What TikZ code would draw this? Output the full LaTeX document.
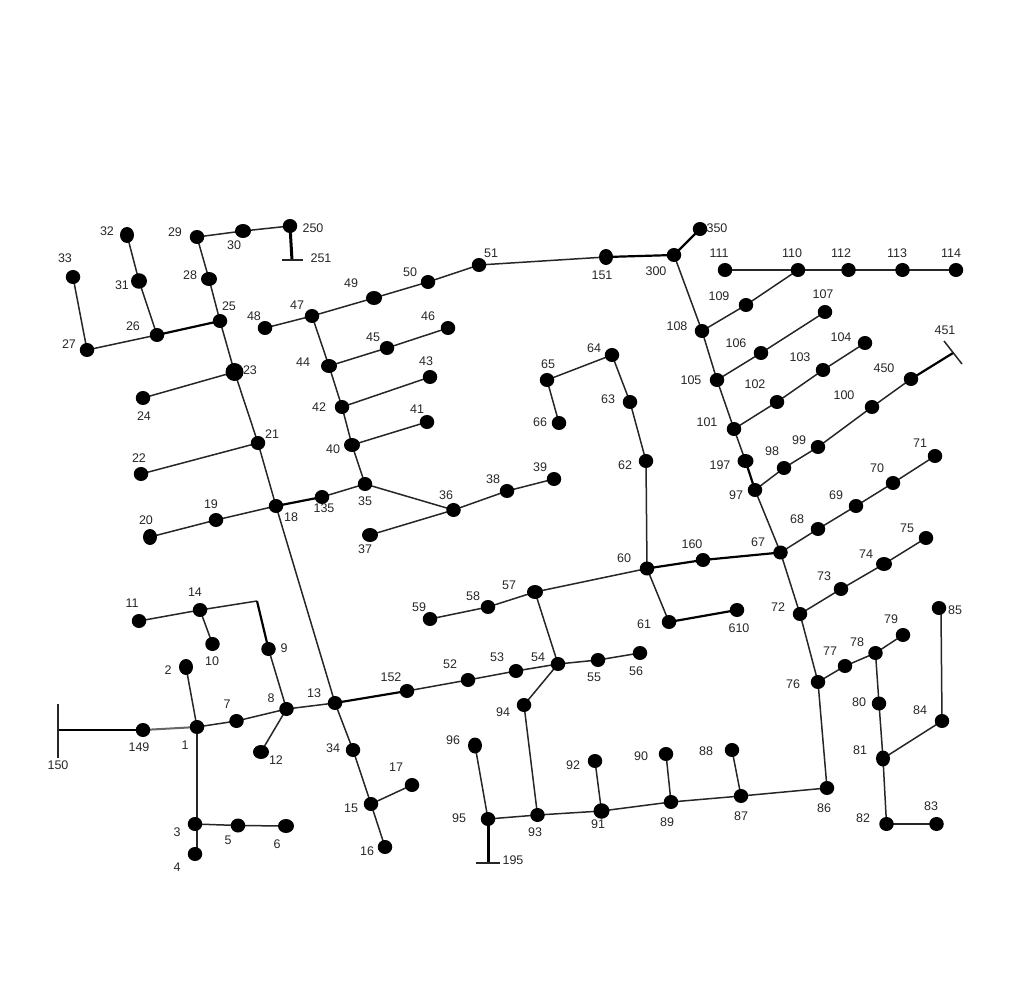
\documentclass[tikz,border=0pt]{standalone}
\usepackage{fontspec}
\setmainfont{Liberation Sans}
\usetikzlibrary{backgrounds,shapes.geometric}
\tikzset{x=1pt,y=-1pt,
 busdot/.style={ellipse,fill=black,draw=none,inner sep=0pt,minimum width=14.5pt,minimum height=14pt},
 widedot/.style={ellipse,fill=black,draw=none,inner sep=0pt,minimum width=16pt,minimum height=14pt},
 talldot/.style={ellipse,fill=black,draw=none,inner sep=0pt,minimum width=14pt,minimum height=16pt},
 meddot/.style={ellipse,fill=black,draw=none,inner sep=0pt,minimum width=16pt,minimum height=15.5pt},
 bigdot/.style={ellipse,fill=black,draw=none,inner sep=0pt,minimum width=18pt,minimum height=18pt},
 lbl/.style={inner sep=0pt,font=\fontsize{12.5}{14}\selectfont,text=black!85},
 ln/.style={draw=black!85,line width=1.5pt},
 grayln/.style={draw=black!60,line width=2pt},
 tk/.style={draw=black,line width=2.2pt},
 tkb/.style={draw=black,line width=3pt}}
\newcommand\busn[6][busdot]{\node[#1] (b#2) at (#3,#4) {}; \node[lbl] (t#2) at (#5,#6) {#2};}
\newcommand\termpt[5]{\coordinate (b#1) at (#2,#3); \node[lbl] (t#1) at (#4,#5) {#1};}
\begin{document}
\begin{tikzpicture}
\useasboundingbox (0,0) rectangle (1021,1000);
\coordinate (c14) at (257,601);
\coordinate (c4) at (197,850);
\coordinate (c85) at (941,610);
\termpt{150}{58}{730}{58}{765}
\termpt{251}{292}{260}{321}{258}
\termpt{451}{953}{353}{945}{330}
\termpt{195}{488}{863}{513}{860}
\draw[ln] (58,704) -- (58,758);
\draw[ln] (282,260) -- (303,260);
\draw[ln] (944,341) -- (962,364);
\draw[ln] (476,863) -- (500,863);
\busn[bigdot]{23}{234.5}{372}{250}{370}
\busn{250}{290}{226}{313}{228}
\busn[widedot]{30}{243}{231}{234}{245}
\busn{29}{197}{237}{175}{232}
\busn[widedot]{28}{209}{279}{190}{275}
\busn{25}{220}{321}{229}{306}
\busn[talldot]{32}{127}{235}{107}{231}
\busn[meddot]{31}{139}{281}{122}{285}
\busn{26}{157}{335}{133}{326}
\busn{33}{73}{277}{65}{258}
\busn{27}{87}{350}{69}{344}
\busn{24}{143}{398}{144}{416}
\busn{21}{258}{443}{272}{434}
\busn{22}{141}{474}{139}{458}
\busn{18}{276}{506}{291}{517}
\busn{19}{216}{520}{211}{504}
\busn[talldot]{20}{150}{537}{146}{520}
\busn{135}{322}{497}{324}{508}
\busn{35}{365}{484}{365}{501}
\busn[widedot]{40}{352}{445}{333}{449}
\busn{41}{427}{422}{417}{409}
\busn{42}{342}{407}{319}{407}
\busn{43}{430}{377}{426}{361}
\busn[widedot]{44}{329}{366}{303}{362}
\busn{45}{387}{348}{373}{337}
\busn{46}{448}{328}{428}{316}
\busn{47}{312}{316}{297}{305}
\busn{48}{265}{328}{254}{316}
\busn[widedot]{49}{374}{298}{351}{283}
\busn{50}{428}{282}{410}{272}
\busn{51}{479}{265}{491}{253}
\busn[talldot]{151}{606}{257}{602}{275}
\busn{300}{674}{255}{656}{271}
\busn{350}{700}{229}{717}{228}
\busn{111}{725}{270}{719}{253}
\busn{110}{798}{270}{792}{253}
\busn{112}{848.5}{270}{841}{253}
\busn{113}{902.5}{270}{897}{253}
\busn{114}{956}{270}{951}{253}
\busn{109}{746}{305}{719}{296}
\busn{108}{702}{331}{677}{326}
\busn{107}{825}{312}{823}{294}
\busn{106}{761}{353}{736}{343}
\busn{105}{717}{380}{691}{380}
\busn{104}{865}{343}{841}{337}
\busn{103}{823}{370}{800}{357}
\busn{102}{777}{402}{755}{384}
\busn{101}{734}{429}{707}{422}
\busn{100}{872}{407}{844}{395}
\busn{450}{911}{379}{884}{368}
\busn{99}{818}{447}{799}{440}
\busn{98}{784}{468}{772}{451}
\busn[widedot]{197}{745.5}{461}{720}{465}
\busn{97}{755}{490}{736}{495}
\busn{71}{935}{456}{920}{443}
\busn{70}{893}{483}{877}{468}
\busn{69}{856}{506}{836}{495}
\busn{68}{818}{529}{797}{519}
\busn{67}{780.5}{552.5}{758}{542}
\busn{160}{703}{560}{692}{544}
\busn{60}{647}{568.5}{624}{558}
\busn{75}{926}{538}{907}{528}
\busn[widedot]{74}{884}{564}{866}{554}
\busn{73}{841}{589}{824}{576}
\busn{72}{800}{614}{778}{607}
\busn{85}{939}{608}{955}{610}
\busn{79}{903}{635}{891}{619}
\busn{78}{875.5}{653}{857}{642}
\busn{77}{845}{666}{830}{651}
\busn{76}{818}{682}{793}{684}
\busn{80}{879}{703.5}{859}{702}
\busn{84}{942}{721}{920}{710}
\busn[talldot]{81}{883}{758.5}{860}{750}
\busn{82}{886.5}{824}{863}{818}
\busn{83}{936.5}{824}{931}{806}
\busn{86}{827}{788}{824}{808}
\busn{87}{741}{796}{741}{816}
\busn{88}{732}{750}{706}{751}
\busn{89}{671}{802}{667}{822}
\busn{90}{666}{754}{641}{756}
\busn[meddot]{91}{601.5}{811}{598}{824}
\busn{92}{595}{761}{573}{765}
\busn{93}{537.5}{815}{535}{832}
\busn{94}{524}{705}{503}{712}
\busn{95}{488}{819}{459}{818}
\busn[talldot]{96}{475}{745.5}{453}{740}
\busn{61}{669}{622}{644}{624}
\busn{610}{737}{610}{739}{628}
\busn{62}{646}{461}{625}{465}
\busn{63}{630}{402}{608}{399}
\busn{64}{612}{355}{594}{348}
\busn{65}{547}{380}{548}{364}
\busn{66}{559}{423}{540}{422}
\busn{59}{430}{619}{419}{607}
\busn{58}{488}{607}{473}{596}
\busn[widedot]{57}{535}{592}{509}{585}
\busn{36}{453.5}{510}{446}{495}
\busn[widedot]{37}{370}{535}{365}{549}
\busn{38}{507}{491}{493}{479}
\busn{39}{554}{479}{540}{467}
\busn{56}{640}{653}{636}{671}
\busn{55}{598}{660}{594}{677}
\busn{54}{558}{664}{538}{657}
\busn{53}{516}{671}{497}{657}
\busn{52}{468}{680}{450}{664}
\busn{152}{407}{691}{391}{677}
\busn{13}{335}{703}{314}{693}
\busn{34}{353}{750}{333}{748}
\busn{17}{412}{785}{396}{767}
\busn{15}{371}{804}{351}{808}
\busn{16}{385}{847}{367}{851}
\busn{8}{286.5}{709}{271}{698}
\busn[widedot]{12}{261}{752}{276}{760}
\busn{7}{236.5}{721}{227}{704}
\busn{1}{197}{727}{185}{745}
\busn{149}{143}{730}{139}{747}
\busn[talldot]{2}{186}{667}{168}{670}
\busn{3}{195}{824}{177}{832}
\busn{4}{195}{854}{177}{867}
\busn{5}{238}{825.5}{228}{840}
\busn[widedot]{6}{286}{826}{277}{844}
\busn{9}{268.5}{649}{284}{648}
\busn{10}{212.5}{644}{212}{661}
\busn{14}{200}{610}{195}{592}
\busn{11}{139}{621}{132}{603}
\begin{scope}[on background layer]
\foreach \p/\q in {250/30,30/29,29/28,28/25,25/23,23/21,21/18,18/13,32/31,31/26,33/27,27/26,24/23,22/21,20/19,19/18,135/35,35/40,40/42,42/44,44/47,47/48,47/49,49/50,50/51,51/151,300/108,108/105,105/101,101/197,97/67,67/72,72/76,76/86,111/110,110/112,112/113,113/114,110/109,109/108,107/106,106/105,104/103,103/102,102/101,450/100,100/99,99/98,98/97,71/70,70/69,69/68,68/67,75/74,74/73,73/72,84/81,81/80,80/78,78/77,77/76,78/79,81/82,82/83,86/87,87/89,89/91,91/93,93/95,88/87,90/89,92/91,94/93,96/95,54/94,13/34,34/15,15/16,15/17,13/8,8/7,7/1,1/2,3/5,5/6,8/12,8/9,14/10,14/11,152/52,52/53,53/54,54/55,55/56,54/57,57/58,58/59,57/60,60/62,62/63,63/64,64/65,65/66,60/61,35/36,36/37,36/38,38/39,40/41,42/43,44/45,45/46}
 {\draw[ln] (b\p.center) -- (b\q.center);}
\foreach \p/\q in {25/26,18/135,151/300,150/149,13/152,60/160,160/67,197/97,450/451,300/350,61/610}
 {\draw[tk] (b\p.center) -- (b\q.center);}
\foreach \p/\q in {195/95,250/251}
 {\draw[tkb] (b\p.center) -- (b\q.center);}
\draw[grayln] (b149.center) -- (b1.center);
\draw[ln] (b14.center) -- (c14);
\draw[tk] (c14) -- (b9.center);
\draw[ln] (b1.center) -- (c4);
\draw[ln] (c85) -- (b84.center);
\end{scope}
\end{tikzpicture}
\end{document}
